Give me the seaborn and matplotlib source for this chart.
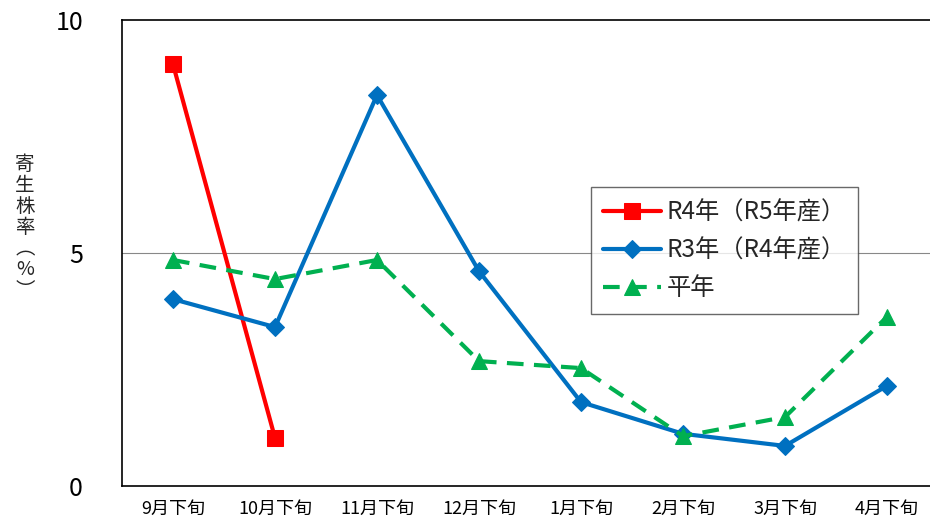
import numpy as np
import pandas as pd
import matplotlib
matplotlib.use("Agg")
import matplotlib.pyplot as plt
import seaborn as sns

# ---------------- DATA ----------------
periods = ["9月下旬", "10月下旬", "11月下旬", "12月下旬",
           "1月下旬", "2月下旬", "3月下旬", "4月下旬"]
r4 = [9.05, 1.03, np.nan, np.nan, np.nan, np.nan, np.nan, np.nan]
r3 = [4.01, 3.41, 8.39, 4.61, 1.80, 1.12, 0.86, 2.15]
normal = [4.85, 4.44, 4.85, 2.68, 2.53, 1.07, 1.48, 3.63]
labels = ["R4年（R5年産）", "R3年（R4年産）", "平年"]

RED = "#FF0000"
BLUE = "#0070C0"
GREEN = "#00B050"

# ---------------- THEME ----------------
sns.set_theme(style="white")
plt.rcParams["font.family"] = ["Noto Sans CJK JP", "DejaVu Sans"]

df = pd.DataFrame({"x": np.arange(len(periods)), "r4": r4, "r3": r3, "normal": normal})

fig = plt.figure(figsize=(9.3, 5.21), dpi=100)
ax = fig.add_axes([122 / 930, 35 / 521, 816 / 930, 466 / 521])

sns.lineplot(data=df.dropna(subset=["r4"]), x="x", y="r4", ax=ax, color=RED,
             linewidth=3, marker="s", markersize=11, markeredgecolor=RED,
             label=labels[0])
sns.lineplot(data=df, x="x", y="r3", ax=ax, color=BLUE, linewidth=3,
             marker="D", markersize=9, markeredgecolor=BLUE, label=labels[1])
sns.lineplot(data=df, x="x", y="normal", ax=ax, color=GREEN, linewidth=3,
             marker="^", markersize=12, markeredgecolor=GREEN, label=labels[2])
ax.lines[-1].set_dashes([4, 2.5])

ax.set_xlim(-0.5, len(periods) - 0.5)
ax.set_ylim(0, 10)
ax.set_yticks([0, 5, 10])
ax.set_yticklabels(["0", "5", "10"], fontsize=18)
ax.set_xticks(np.arange(len(periods)))
ax.set_xticklabels(periods, fontsize=13)
ax.tick_params(axis="x", length=0, pad=10, colors="black")
ax.tick_params(axis="y", length=0, pad=28, colors="black")
ax.axhline(5, color="#888888", linewidth=0.8, zorder=0)
ax.set_xlabel("")
ax.set_ylabel("")

for s in ax.spines.values():
    s.set_color("black")
    s.set_linewidth(1.2)

fig.text(25 / 930, 1 - 228 / 521, "\n".join("寄生株率︵%︶"), fontsize=14,
         ha="center", va="center", linespacing=1.0)

leg = ax.legend(loc="upper left", bbox_to_anchor=(469 / 816, 1 - 167 / 466),
                fontsize=17.5, frameon=True, fancybox=False, handlelength=2.4,
                borderpad=0.5, labelspacing=0.5, handletextpad=0.2,
                borderaxespad=0)
leg.get_frame().set_edgecolor("#444444")
leg.get_frame().set_linewidth(1.0)

fig.savefig("out.png", dpi=100)
